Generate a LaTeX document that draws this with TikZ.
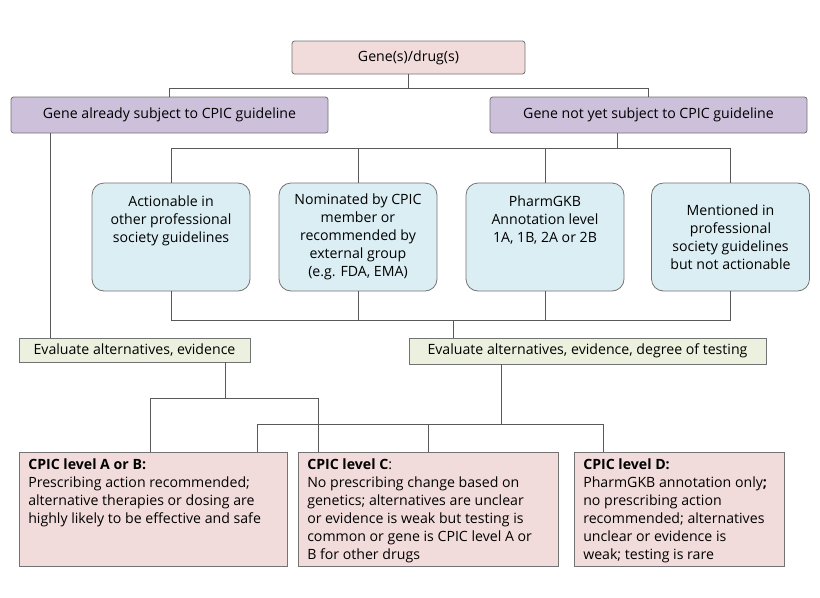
\documentclass[tikz,border=0pt]{standalone}
\usepackage{fontspec}
\setmainfont{Open Sans}
\begin{document}
\begin{tikzpicture}[x=0.75pt,y=-0.75pt,font=\fontsize{10.6}{13.6}\selectfont,
  box/.style={draw=black!55,line width=0.6pt,inner sep=0pt},
  pinkb/.style={box,fill=pinkc},
  purb/.style={box,fill=purc},
  blueb/.style={box,fill=bluec,rounded corners=9pt,align=center},
  evb/.style={box,fill=evc},
  ln/.style={draw=black!65,line width=0.6pt}]
\definecolor{pinkc}{HTML}{F2DCDB}
\definecolor{purc}{HTML}{CCC0DA}
\definecolor{bluec}{HTML}{DBEEF4}
\definecolor{evc}{HTML}{EBF1DE}
\useasboundingbox (0,0) rectangle (820,597);
\fill[white] (0,0) rectangle (820,597);
% boxes
\node[pinkb,minimum width=233*0.75pt,minimum height=33*0.75pt,rounded corners=2pt] (top) at (408.5,57.5) {Gene(s)/drug(s)};
\node[purb,minimum width=317*0.75pt,minimum height=36*0.75pt,rounded corners=2pt] (pl) at (169.5,115) {Gene already subject to CPIC guideline};
\node[purb,minimum width=317*0.75pt,minimum height=36*0.75pt,rounded corners=2pt] (pr) at (648.5,115) {Gene not yet subject to CPIC guideline};
\foreach \n/\x/\t in {b1/171/{Actionable in\\other professional\\society guidelines\\[13pt]},
  b2/358/{Nominated by CPIC\\member or\\recommended by\\external group\\(e.g. FDA, EMA)},
  b3/545/{PharmGKB\\Annotation level\\1A, 1B, 2A or 2B\\[13pt]},
  b4/730.5/{Mentioned in\\professional\\society guidelines\\but not actionable}}
  \node[blueb,minimum width=158*0.75pt,minimum height=108*0.75pt] (\n) at (\x,237) {\t};
\node[evb,minimum width=231*0.75pt,minimum height=24*0.75pt] (el) at (134.5,350) {Evaluate alternatives, evidence};
\node[evb,minimum width=357*0.75pt,minimum height=26*0.75pt] (er) at (587.5,351) {Evaluate alternatives, evidence, degree of testing};
\node[pinkb,minimum width=268*0.75pt,minimum height=114*0.75pt] (c1) at (153,509) {};
\node[pinkb,minimum width=260*0.75pt,minimum height=114*0.75pt] (c2) at (428,509) {};
\node[pinkb,minimum width=210*0.75pt,minimum height=114*0.75pt] (c3) at (679,509) {};
\node[anchor=north west,align=left,inner sep=0pt] (t1) at (28,458) {\textbf{CPIC level A or B:}\\Prescribing action recommended;\\alternative therapies or dosing are\\highly likely to be effective and safe};
\node[anchor=north west,align=left,inner sep=0pt] (t2) at (307,458) {\textbf{CPIC level C}:\\No prescribing change based on\\genetics; alternatives are unclear\\or evidence is weak but testing is\\common or gene is CPIC level A or\\B for other drugs};
\node[anchor=north west,align=left,inner sep=0pt] (t3) at (583,458) {\textbf{CPIC level D:}\\PharmGKB annotation only\textbf{;}\\no prescribing action\\recommended; alternatives\\unclear or evidence is\\weak; testing is rare};
% connectors
\coordinate (j1) at (408.5,88);
\draw[ln] (top.south) -- (j1) -| (pl.north);
\draw[ln] (j1) -| (pr.north);
\coordinate (j2) at (617,148);
\draw[ln] (pr.south -| j2) -- (j2) -| (b1.north);
\draw[ln] (j2) -| (b4.north);
\draw[ln] (b2.north) -- (b2.north |- j2);
\draw[ln] (b3.north) -- (b3.north |- j2);
\coordinate (j3) at (453,320);
\draw[ln] (b1.south) |- (j3);
\draw[ln] (b4.south) |- (j3);
\draw[ln] (b2.south) -- (b2.south |- j3);
\draw[ln] (b3.south) -- (b3.south |- j3);
\draw[ln] (j3) -- (er.north -| j3);
\coordinate (plb) at (50,133);
\draw[ln] (plb) -- (plb |- el.north);
\coordinate (j4) at (225,398);
\draw[ln] (el.south -| j4) -- (j4);
\coordinate (a1) at (150,398);
\coordinate (a2) at (318,398);
\draw[ln] (a1) -- (a2);
\draw[ln] (a1) -- (a1 |- c1.north);
\draw[ln] (a2) -- (a2 |- c2.north);
\coordinate (j5) at (501,424);
\draw[ln] (er.south -| j5) -- (j5);
\coordinate (d1) at (257,424);
\coordinate (d2) at (428,424);
\coordinate (d3) at (603,424);
\draw[ln] (d1) -- (d3);
\draw[ln] (d1) -- (d1 |- c1.north);
\draw[ln] (d2) -- (d2 |- c2.north);
\draw[ln] (d3) -- (d3 |- c3.north);
\end{tikzpicture}
\end{document}
